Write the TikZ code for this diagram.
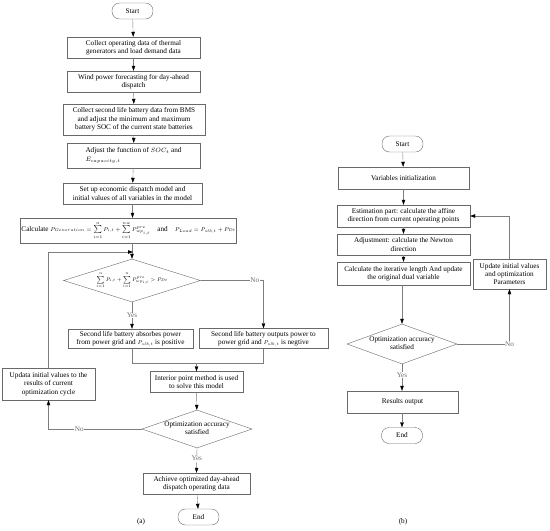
\documentclass[tikz,border=0pt]{standalone}
\usepackage{graphicx}
\usepackage{fontspec}
\setmainfont{Liberation Serif}
\usetikzlibrary{shapes.geometric,arrows.meta}
\definecolor{boxgray}{RGB}{105,105,105}
\definecolor{linegray}{RGB}{125,125,125}
\definecolor{labgray}{RGB}{110,110,110}
\newcommand{\zwtext}[1]{\makebox[0pt][c]{\begin{tabular}{@{}c@{}}#1\end{tabular}}}
\newcommand{\smallmath}[2]{\raisebox{0pt}{\scalebox{#1}{$#2$}}}
\begin{document}
\begin{tikzpicture}[x=1pt,y=-1pt,
  every node/.style={font=\fontsize{7.2}{8.4}\selectfont, inner sep=1pt},
  proc/.style={draw=boxgray, rectangle, align=center},
  term/.style={draw=boxgray, rectangle, rounded corners=7.5pt, minimum width=41, minimum height=16},
  dec/.style={draw=boxgray, diamond, inner sep=0pt, align=center},
  arr/.style={draw=linegray, -{Triangle[color=black,length=5pt,width=3.5pt]}},
  ln/.style={draw=linegray},
  lab/.style={text=labgray, fill=white, inner sep=0.6pt}]
\useasboundingbox (0,0) rectangle (550,531);
% ---------------- (a) ----------------
\node[term] (sA) at (132.5,11) {Start};
\node[proc, minimum width=133, minimum height=21] (a1) at (133.5,47.5) {Collect operating data of thermal\\generators and load demand data};
\node[proc, minimum width=133, minimum height=21] (a2) at (133.5,81.5) {Wind power forecasting for day-ahead\\dispatch};
\node[proc, minimum width=142, minimum height=31] (a3) at (134,119.5) {Collect second life battery data from BMS\\and adjust the minimum and maximum\\battery SOC of the current state batteries};
\node[draw=boxgray, rectangle, align=left, minimum width=133, minimum height=25] (a4) at (133.5,155.5) {Adjust the function of \smallmath{0.9}{SOC_t} and\\\smallmath{0.9}{E_{capacity,t}}};
\node[proc, minimum width=139, minimum height=21] (a5) at (132.5,193.5) {Set up economic dispatch model and\\initial values of all variables in the model};
\node[proc, minimum width=197, minimum height=25] (a6) at (128.5,230.5) {Calculate \smallmath{0.8}{P_{Generation}=\sum\limits_{i=1}^{n}P_{i,t}+\sum\limits_{i=1}^{nw}P^{pre}_{wp_{i,t}}}\quad and\quad \smallmath{0.8}{P_{Load}=P_{slb,t}+P_{Dt}}};
\coordinate (j1) at (133,252);
\node[dec, minimum width=137, minimum height=43] (d1) at (132,280.5) {\zwtext{\smallmath{0.74}{\sum\limits_{i=1}^{n}P_{i,t}+\sum\limits_{i=1}^{n}P^{pre}_{wp_{i,t}}>P_{Dt}}}};
\node[proc, minimum width=125, minimum height=19] (a7) at (130.5,338.5) {Second life battery absorbes power\\from power grid and \smallmath{0.8}{P_{slb,t}} is positive};
\node[proc, minimum width=129, minimum height=20] (a8) at (263.5,338.5) {Second life battery outputs power to\\power grid and \smallmath{0.8}{P_{slb,t}} is negtive};
\coordinate (m) at (196.5,363);
\node[proc, minimum width=93, minimum height=21] (a9) at (196.5,382) {Interior point method is used\\to solve this model};
\node[dec, minimum width=110, minimum height=38] (d2) at (197,429) {\zwtext{Optimization accuracy\\satisfied}};
\node[proc, minimum width=93, minimum height=32] (up1) at (48.5,384) {Updata initial values to the\\results of current\\optimization cycle};
\node[proc, minimum width=107, minimum height=21] (a10) at (196.5,483.5) {Achieve optimized day-ahead\\dispatch operating data};
\node[term] (eA) at (198.5,517) {End};
\node (capA) at (141,522) {(a)};
\draw[arr] (sA) -- (a1);
\draw[arr] (a1) -- (a2);
\draw[arr] (a2) -- (a3);
\draw[arr] (a3) -- (a4);
\draw[arr] (a4) -- (a5);
\draw[arr] (a5.south) -- (a5.south |- a6.north);
\draw[arr] (d1.north |- a6.south) -- (d1.north);
\draw[arr] (d1.south) -- node[lab]{Yes} (d1.south |- a7.north);
\draw[arr] (d1.east) -- node[lab,pos=0.86]{No} (d1.east -| a8.north) -- (a8.north);
\draw[ln] (d1.south |- a7.south) |- (a8.south |- m) -- (a8.south);
\draw[arr] (m) -- (a9.north);
\draw[arr] (a9) -- (d2);
\draw[arr] (d2.south) -- node[lab,pos=0.42]{Yes} (a10.north);
\draw[arr] (a10) -- (eA);
\draw[arr] (d2.west) -- node[lab,pos=0.67]{No} (d2.west -| up1.south) -- (up1.south);
\draw[arr] (up1.north) |- (j1);
% ---------------- (b) ----------------
\node[term] (sB) at (402.5,144) {Start};
\node[proc, minimum width=131, minimum height=22] (b1) at (403.5,178) {Variables initialization};
\node[proc, minimum width=133, minimum height=22] (b2) at (403.5,216) {Estimation part: calculate the affine\\direction from current operating points};
\node[proc, minimum width=133, minimum height=21] (b3) at (403.5,244.5) {Adjustment: calculate the Newton\\direction};
\node[proc, minimum width=133, minimum height=23] (b4) at (403.5,273.5) {Calculate the iterative length And update\\the original dual variable};
\node[dec, minimum width=110, minimum height=40] (d3) at (402,344) {\zwtext{Optimization accuracy\\satisfied}};
\node[proc, minimum width=111, minimum height=22] (b5) at (402.5,402) {Results output};
\node[term] (eB) at (402,435.5) {End};
\node[proc, minimum width=73, minimum height=30] (up2) at (509.5,274) {Update initial values\\and optimization\\Parameters};
\node (capB) at (403,522) {(b)};
\draw[arr] (sB) -- (b1);
\draw[arr] (b1) -- (b2);
\draw[arr] (b2) -- (b3);
\draw[arr] (b3) -- (b4);
\draw[arr] (b4.south -| d3.north) -- (d3.north);
\draw[arr] (d3.south) -- node[lab,pos=0.4]{Yes} (d3.south |- b5.north);
\draw[arr] (b5.south -| eB.north) -- (eB.north);
\draw[arr] (d3.east) -- (d3.east -| up2.south) node[lab]{No} -- (up2.south);
\draw[arr] (up2.north) |- (b2.east);
\end{tikzpicture}
\end{document}
